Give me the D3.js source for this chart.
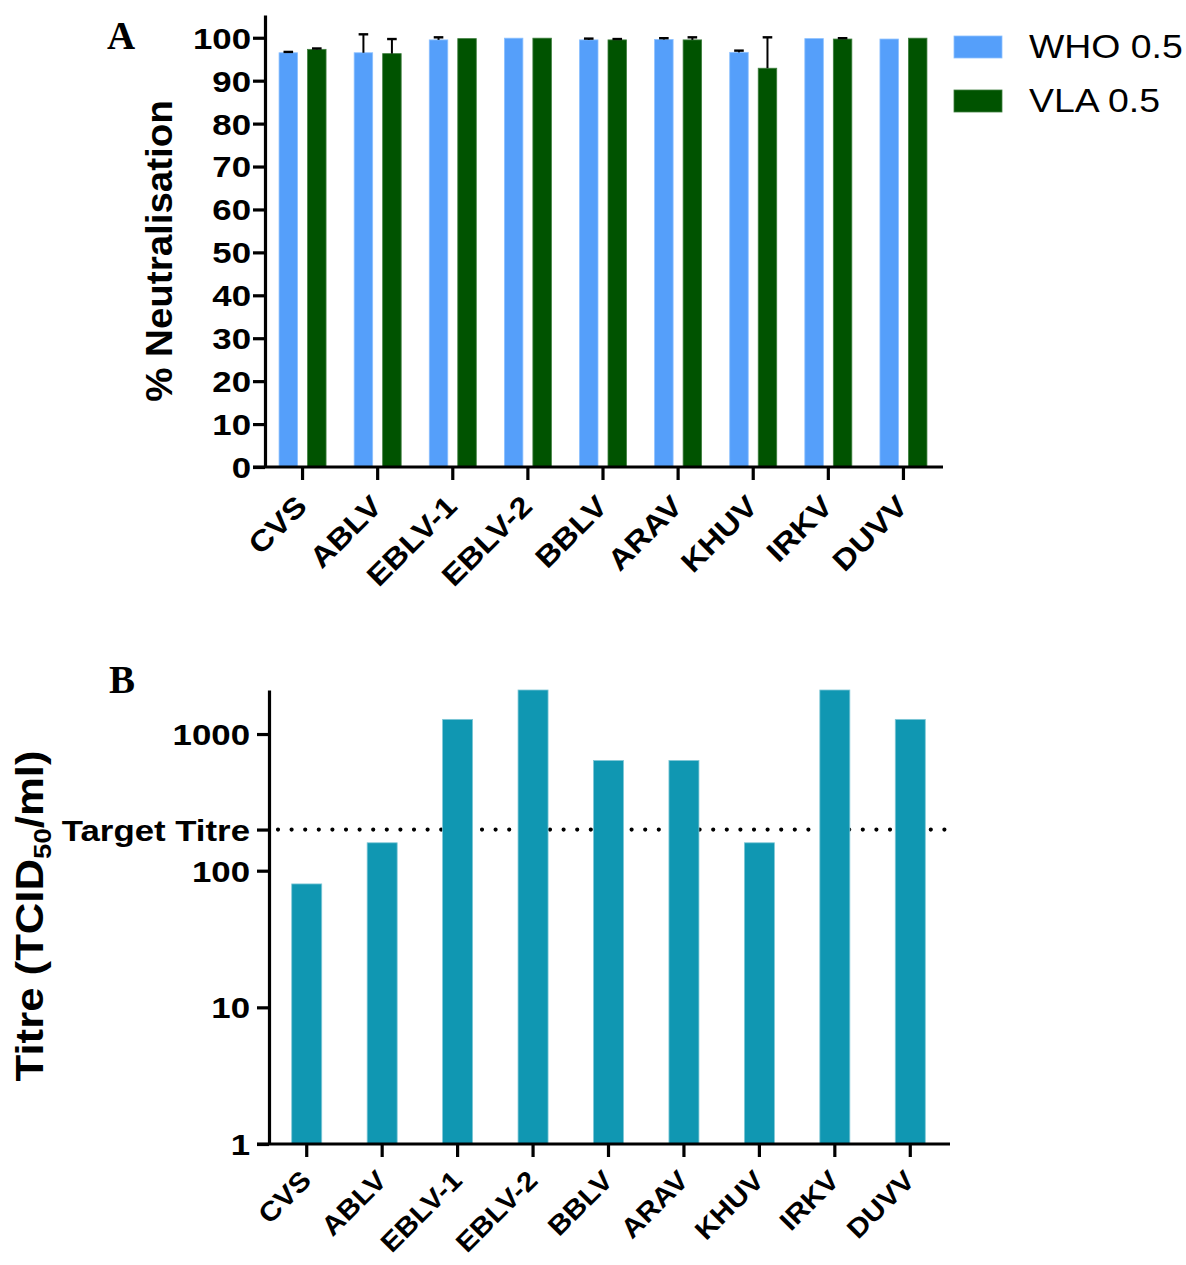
<!DOCTYPE html>
<html>
<head>
<meta charset="utf-8">
<script src="https://cdn.jsdelivr.net/npm/d3@7"></script>
<style>
  html, body { margin: 0; padding: 0; background: #ffffff; }
  svg { display: block; }
  text { font-family: "Liberation Sans", Arial, sans-serif; }
</style>
</head>
<body>
<svg id="fig" width="1186" height="1265"></svg>
<script>
// Virus panel, shared by both plots
const categories = ["CVS", "ABLV", "EBLV-1", "EBLV-2", "BBLV", "ARAV", "KHUV", "IRKV", "DUVV"];

// Panel A: % neutralisation (mean + upper SD)
const seriesNames = ["WHO 0.5", "VLA 0.5"];
const whoMean = [96.5, 96.5, 99.5, 99.9, 99.5, 99.6, 96.6, 99.8, 99.7];
const whoErr  = [0.2, 4.3, 0.6, 0, 0.3, 0.3, 0.4, 0, 0];
const vlaMean = [97.3, 96.3, 99.8, 99.9, 99.5, 99.5, 92.9, 99.7, 99.9];
const vlaErr  = [0.2, 3.4, 0, 0, 0.2, 0.6, 7.2, 0.2, 0];
const percentTicks = [0, 10, 20, 30, 40, 50, 60, 70, 80, 90, 100];

// Panel B: titre (TCID50/ml)
const titre = [80, 160, 1280, 2560, 640, 640, 160, 2560, 1280];
const targetTitre = 200;
const titreTicks = [1, 10, 100, 1000];

const colors = { who: "#559ffa", vla: "#005300", titre: "#1097b2" };
const strokes = { who: "#8cc0ff", vla: "#3f7f3f", titre: "#7fc7d6" };

const svg = d3.select("#fig");
svg.append("rect").attr("width", 1186).attr("height", 1265).attr("fill", "#ffffff");

const boldFont = "bold 29px 'Liberation Sans', Arial, sans-serif";
const WIDE = 1.2;     // the tick labels use a wide bold face

// widen text horizontally in its own frame, keeping its anchor point
function widen(sel, s) {
  sel.each(function () {
    const t = d3.select(this);
    const x = +t.attr("x") || 0;
    const prev = t.attr("transform") || "";
    t.attr("x", 0).attr("transform", `${prev} translate(${x},0) scale(${s},1)`);
  });
}

function styleAxis(g) {
  g.select(".domain").attr("stroke", "#000").attr("stroke-width", 3.2);
  g.selectAll(".tick line").attr("stroke", "#000").attr("stroke-width", 3.2);
  g.selectAll(".tick text")
    .attr("fill", "#000")
    .style("font", boldFont);
}

function rotateXLabels(xa, size, wide, dy) {
  xa.selectAll(".tick text")
    .style("font-size", size + "px")
    .attr("text-anchor", "end")
    .attr("x", 0).attr("y", 0).attr("dy", 0)
    .attr("transform", `translate(6,${dy}) rotate(-45)`);
  widen(xa.selectAll(".tick text"), wide);
}

// ---------------- Panel A ----------------
{
  const left = 265, right = 941, top = 15, bottom = 467;
  const x = d3.scaleBand().domain(categories).range([left, right]).paddingInner(0).paddingOuter(0);
  const y = d3.scaleLinear().domain([0, 105.3]).range([bottom, top]);
  const barW = 18.5, gap = 10;

  const g = svg.append("g");

  const rows = categories.map((c, i) => ({
    c,
    vals: [
      { key: "who", mean: whoMean[i], err: whoErr[i], off: -gap / 2 - barW },
      { key: "vla", mean: vlaMean[i], err: vlaErr[i], off: gap / 2 }
    ]
  }));

  const cx = c => x(c) + x.bandwidth() / 2;

  // bars
  rows.forEach(r => {
    r.vals.forEach(v => {
      g.append("rect")
        .attr("x", cx(r.c) + v.off)
        .attr("y", y(v.mean))
        .attr("width", barW)
        .attr("height", y(0) - y(v.mean))
        .attr("fill", colors[v.key])
        .attr("stroke", strokes[v.key])
        .attr("stroke-width", 0.8);
    });
  });

  // upper error bars
  rows.forEach(r => {
    r.vals.forEach(v => {
      if (v.err <= 0) return;
      const bx = cx(r.c) + v.off + barW / 2;
      g.append("line")
        .attr("x1", bx).attr("x2", bx)
        .attr("y1", y(v.mean)).attr("y2", y(v.mean + v.err))
        .attr("stroke", "#000").attr("stroke-width", 2);
      g.append("line")
        .attr("x1", bx - 4.8).attr("x2", bx + 4.8)
        .attr("y1", y(v.mean + v.err)).attr("y2", y(v.mean + v.err))
        .attr("stroke", "#000").attr("stroke-width", 2.4);
    });
  });

  // y axis
  const ya = g.append("g")
    .attr("transform", `translate(${left},0)`)
    .call(d3.axisLeft(y).tickValues(percentTicks).tickSize(12).tickPadding(2).tickSizeOuter(0));
  styleAxis(ya);
  ya.selectAll(".tick text").attr("dy", "0.36em");
  widen(ya.selectAll(".tick text"), WIDE);

  // x axis
  const xa = g.append("g")
    .attr("transform", `translate(0,${bottom})`)
    .call(d3.axisBottom(x).tickSize(13).tickSizeOuter(0));
  styleAxis(xa);
  xa.select(".domain").attr("d", `M${left - 12},0H${right + 2}`);
  rotateXLabels(xa, 29, 1.14, 41);

  // y axis title
  g.append("text")
    .attr("transform", `translate(172,251) rotate(-90) scale(1.07,1)`)
    .attr("text-anchor", "middle")
    .style("font", "bold 36px 'Liberation Sans', Arial, sans-serif")
    .text("% Neutralisation");

  // panel letter
  g.append("text")
    .attr("x", 107).attr("y", 49)
    .style("font", "bold 39px 'Liberation Serif', 'Times New Roman', serif")
    .text("A");

  // legend
  const lg = g.append("g");
  seriesNames.forEach((name, i) => {
    const key = i === 0 ? "who" : "vla";
    lg.append("rect")
      .attr("x", 954).attr("y", 36 + i * 54)
      .attr("width", 48).attr("height", 22)
      .attr("fill", colors[key]).attr("stroke", strokes[key]).attr("stroke-width", 0.8);
    lg.append("text")
      .attr("transform", `translate(1029,${58 + i * 54}) scale(1.1,1)`)
      .style("font", "34px 'Liberation Sans', Arial, sans-serif")
      .attr("fill", "#000")
      .text(name);
  });
}

// ---------------- Panel B ----------------
{
  const left = 269, right = 948, top = 690, bottom = 1144;
  const x = d3.scaleBand().domain(categories).range([left, right]).paddingInner(0).paddingOuter(0);
  const y = d3.scaleLog().domain([1, 2100]).range([bottom, top]).clamp(true);
  const barW = 30;
  const cx = c => x(c) + x.bandwidth() / 2;

  const g = svg.append("g");

  // target titre reference line (drawn beneath bars)
  g.append("line")
    .attr("x1", left + 9).attr("x2", right)
    .attr("y1", y(targetTitre)).attr("y2", y(targetTitre))
    .attr("stroke", "#000").attr("stroke-width", 4.2)
    .attr("stroke-linecap", "round")
    .attr("stroke-dasharray", "0,13.6");

  g.selectAll("rect.bar")
    .data(categories.map((c, i) => ({ c, v: titre[i] })))
    .join("rect")
    .attr("class", "bar")
    .attr("x", d => cx(d.c) - barW / 2)
    .attr("y", d => y(d.v))
    .attr("width", barW)
    .attr("height", d => y(1) - y(d.v))
    .attr("fill", colors.titre)
    .attr("stroke", strokes.titre)
    .attr("stroke-width", 0.8);

  // y axis with decade ticks plus the target titre tick
  const ya = g.append("g")
    .attr("transform", `translate(${left},0)`)
    .call(d3.axisLeft(y)
      .tickValues([...titreTicks, targetTitre])
      .tickFormat(d => d === targetTitre ? "Target Titre" : d3.format("d")(d))
      .tickSize(12).tickPadding(7).tickSizeOuter(0));
  styleAxis(ya);
  ya.selectAll(".tick text").attr("dy", "0.36em");
  widen(ya.selectAll(".tick text"), WIDE);

  const xa = g.append("g")
    .attr("transform", `translate(0,${bottom})`)
    .call(d3.axisBottom(x).tickSize(13).tickSizeOuter(0));
  styleAxis(xa);
  xa.select(".domain").attr("d", `M${left - 12},0H${right + 2}`);
  rotateXLabels(xa, 27, 1.1, 38);

  // y axis title with subscript
  const t = g.append("text")
    .attr("transform", `translate(43,916) rotate(-90) scale(1.15,1)`)
    .attr("text-anchor", "middle")
    .style("font", "bold 38px 'Liberation Sans', Arial, sans-serif");
  t.append("tspan").text("Titre (TCID");
  t.append("tspan").attr("dy", 8).style("font-size", "24px").text("50");
  t.append("tspan").attr("dy", -8).text("/ml)");

  g.append("text")
    .attr("x", 109).attr("y", 693)
    .style("font", "bold 39px 'Liberation Serif', 'Times New Roman', serif")
    .text("B");
}
</script>
</body>
</html>
